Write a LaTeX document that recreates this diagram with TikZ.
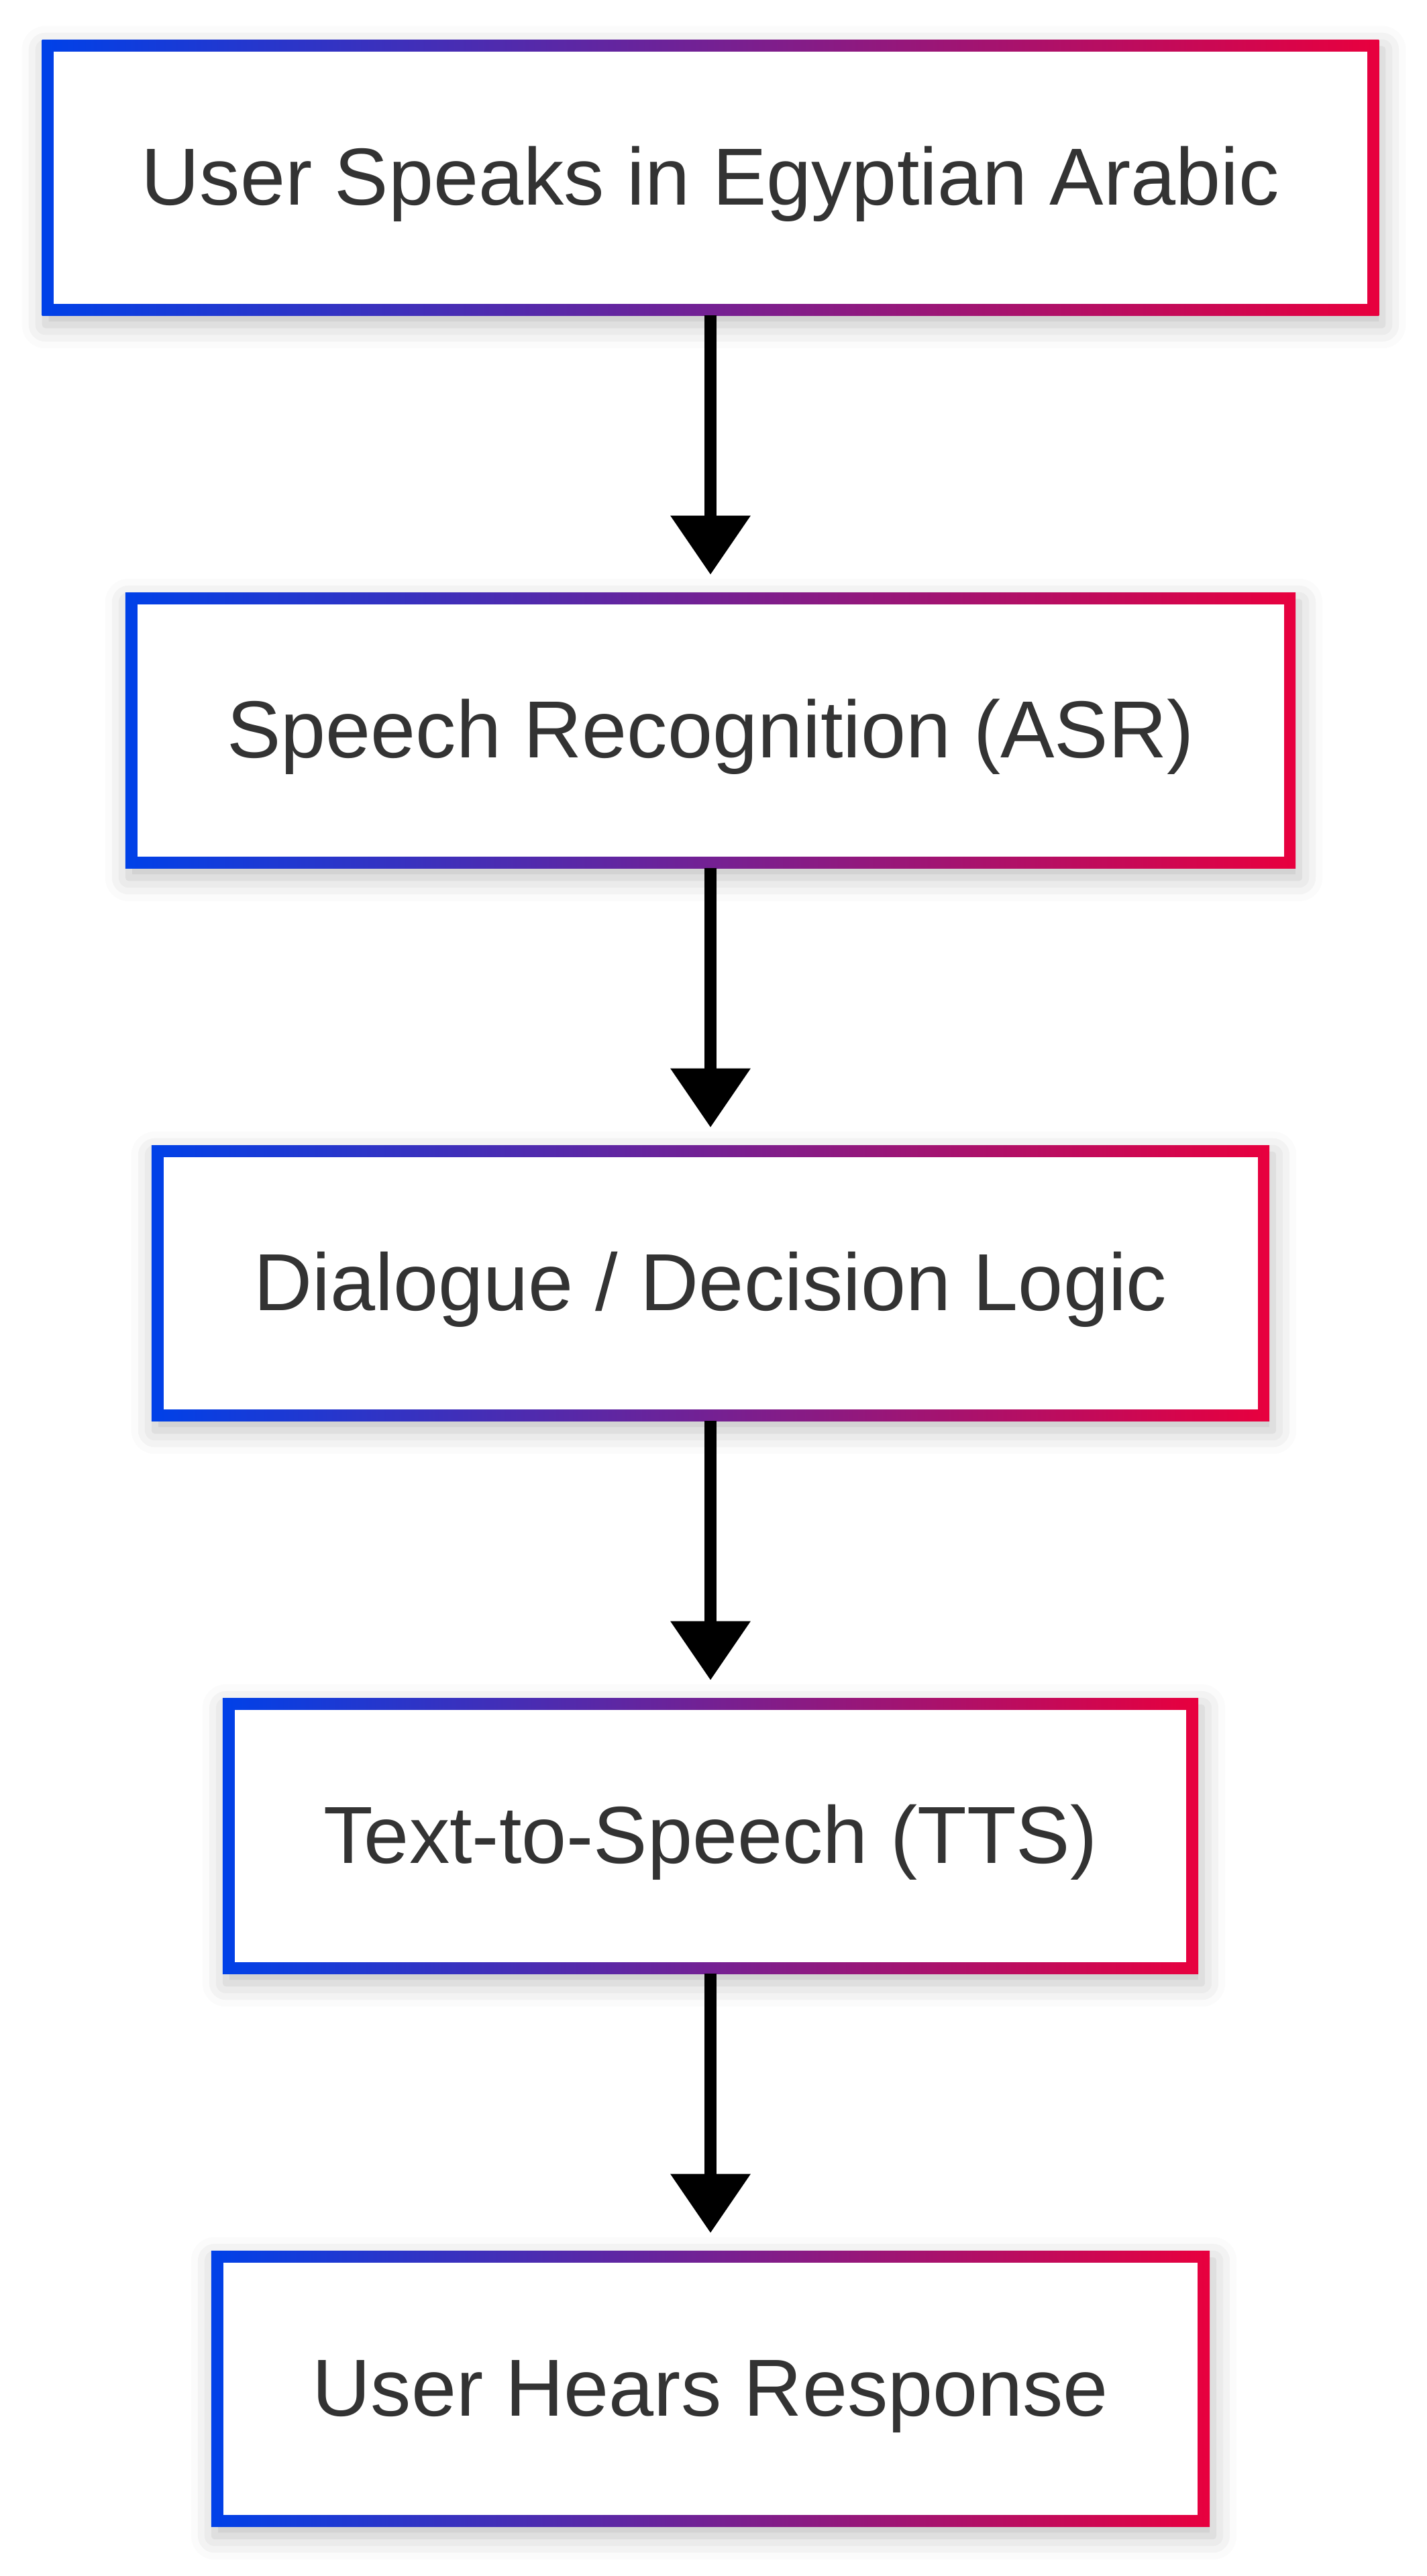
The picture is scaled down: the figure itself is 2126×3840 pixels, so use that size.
\documentclass[tikz,border=0pt]{standalone}
\usepackage{fontspec}
\setmainfont{Liberation Sans}
\usetikzlibrary{arrows.meta,backgrounds,shadows.blur}
\definecolor{flowblue}{HTML}{0041E8}
\definecolor{flowred}{HTML}{E8003E}
\definecolor{flowtext}{HTML}{333333}
\begin{document}
\begin{tikzpicture}[
    x=0.01cm, y=-0.01cm,
    >={Triangle[width=1.15cm,length=0.88cm]},
    font=\fontsize{34.3pt}{41pt}\selectfont,
    stage/.style={
        fill=white,
        rectangle,
        minimum height=3.75cm,
        inner sep=0pt,
        text height=30.2pt,
        text depth=7.2pt,
        text=flowtext,
        align=center
    },
    frame/.style={
        left color=flowblue,
        right color=flowred,
        blur shadow={shadow xshift=0.05cm, shadow yshift=-0.14cm,
            shadow blur radius=0.35cm, shadow opacity=25}
    },
    flow/.style={
        line width=0.175cm,
        shorten <=0.17cm,
        shorten >=0.44cm
    }
]
\useasboundingbox (0,0) rectangle (2126,3840);

\node[stage, minimum width=19.56cm] (speak) at (1059,265) {User Speaks in Egyptian Arabic};
\node[stage, minimum width=17.08cm] (asr) at (1059,1089) {Speech Recognition (ASR)};
\node[stage, minimum width=16.30cm] (logic) at (1059,1913) {Dialogue / Decision Logic};
\node[stage, minimum width=14.18cm] (tts) at (1059,2737) {Text-to-Speech (TTS)};
\node[stage, minimum width=14.52cm] (hear) at (1059,3561) {User Hears Response};

% gradient frames behind the boxes
\begin{scope}[on background layer]
\foreach \n in {speak,asr,logic,tts,hear}
    \shade[frame] ([shift={(-0.17cm,-0.17cm)}]\n.south west)
        rectangle ([shift={(0.17cm,0.17cm)}]\n.north east);
\end{scope}

\draw[->, flow] (speak) -- (asr);
\draw[->, flow] (asr) -- (logic);
\draw[->, flow] (logic) -- (tts);
\draw[->, flow] (tts) -- (hear);
\end{tikzpicture}
\end{document}
